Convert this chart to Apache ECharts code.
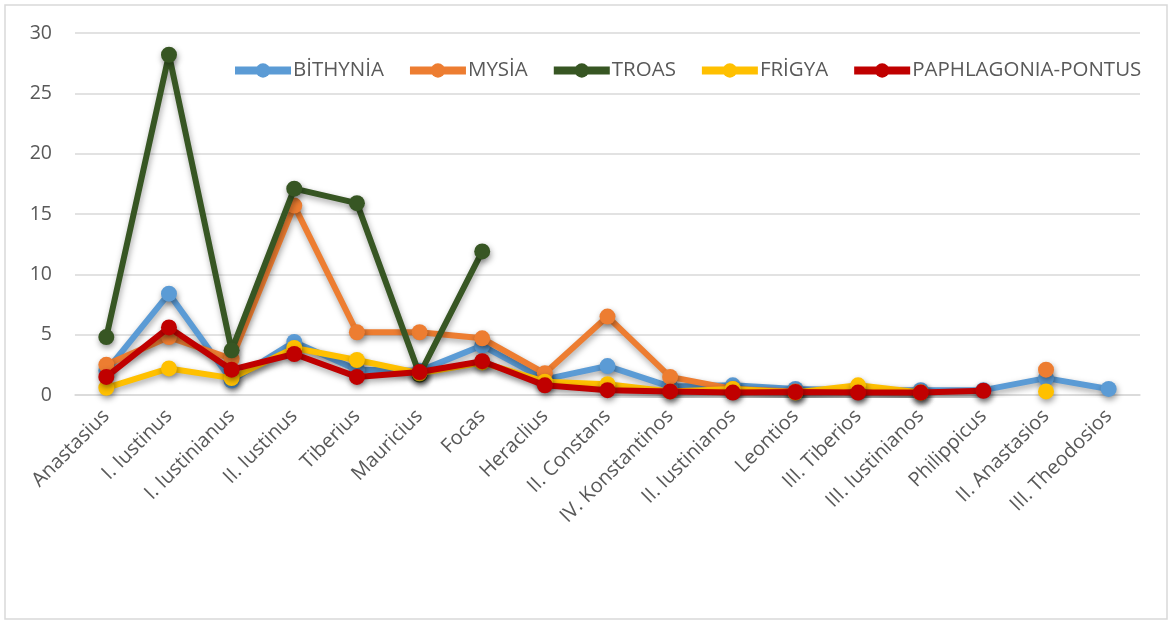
<!DOCTYPE html>
<html>
<head>
<meta charset="utf-8">
<script src="https://cdn.jsdelivr.net/npm/echarts@6/dist/echarts.min.js"></script>
<style>html,body{margin:0;padding:0;background:#fff;}#c{width:1170px;height:622px;}</style>
</head>
<body>
<div id="c"></div>
<script>
const categories = ["Anastasius","I. Iustinus","I. Iustinianus","II. Iustinus","Tiberius","Mauricius","Focas","Heraclius","II. Constans","IV. Konstantinos","II. Iustinianos","Leontios","III. Tiberios","III. Iustinianos","Philippicus","II. Anastasios","III. Theodosios"];
const seriesNames = ["BİTHYNİA","MYSİA","TROAS","FRİGYA","PAPHLAGONIA-PONTUS"];
const bithynia = [2.0, 8.4, 1.2, 4.4, 2.1, 2.0, 4.1, 1.3, 2.4, 0.7, 0.8, 0.5, 0.4, 0.4, 0.4, 1.4, 0.5];
const mysia = [2.5, 4.8, 3.0, 15.7, 5.2, 5.2, 4.7, 1.8, 6.5, 1.5, 0.5, 0.3, 0.3, 0.2, null, 2.1, null];
const troas = [4.8, 28.2, 3.7, 17.1, 15.9, 1.7, 11.9, null, null, null, null, null, null, null, null, null, null];
const frigya = [0.6, 2.2, 1.4, 3.9, 2.9, 1.8, 2.7, 1.1, 0.9, 0.3, 0.5, 0.2, 0.8, 0.2, null, 0.3, null];
const paphlagonia = [1.5, 5.6, 2.1, 3.4, 1.5, 1.9, 2.8, 0.8, 0.4, 0.3, 0.2, 0.25, 0.2, 0.2, 0.35, null, null];
const yTicks = {min: 0, max: 30, interval: 5};
const colors = ["#5B9BD5","#ED7D31","#375623","#FFC000","#C00000"];
const dataSets = [bithynia, mysia, troas, frigya, paphlagonia];

const chart = echarts.init(document.getElementById('c'), null, {renderer: 'canvas'});
const series = seriesNames.map((n, i) => ({
  name: n,
  type: 'line',
  data: dataSets[i],
  symbol: 'circle',
  symbolSize: 16,
  connectNulls: false,
  color: colors[i],
  lineStyle: {width: 6, color: colors[i], shadowColor: 'rgba(0,0,0,0.35)', shadowBlur: 6, shadowOffsetX: 1, shadowOffsetY: 3},
  itemStyle: {color: colors[i], shadowColor: 'rgba(0,0,0,0.4)', shadowBlur: 6, shadowOffsetX: 1, shadowOffsetY: 3},
  z: 2 + i,
  animation: false
}));
chart.setOption({
  animation: false,
  textStyle: {fontFamily: 'Open Sans'},
  graphic: [{type: 'rect', shape: {x: 5, y: 5, width: 1162, height: 614}, style: {fill: 'none', stroke: '#d9d9d9', lineWidth: 1.5}, silent: true}],
  legend: {
    left: 231, top: 60, padding: 0,
    itemWidth: 56, itemHeight: 18, itemGap: 22,
    lineStyle: {width: 8, shadowBlur: 0, shadowOffsetX: 0, shadowOffsetY: 0},
    itemStyle: {shadowBlur: 0, shadowOffsetX: 0, shadowOffsetY: 0},
    textStyle: {color: '#595959', fontSize: 20.5, fontFamily: 'Open Sans', padding: [0,0,0,-3]},
    data: seriesNames
  },
  grid: {left: 75, right: 30, top: 33, bottom: 227, containLabel: false},
  xAxis: {
    type: 'category', data: categories, boundaryGap: true,
    axisTick: {show: false},
    axisLine: {lineStyle: {color: '#d9d9d9', width: 1.5}},
    axisLabel: {rotate: 45, color: '#595959', fontSize: 20, fontFamily: 'Open Sans', margin: 18, interval: 0}
  },
  yAxis: {
    type: 'value', min: yTicks.min, max: yTicks.max, interval: yTicks.interval,
    axisLine: {show: false}, axisTick: {show: false},
    splitLine: {lineStyle: {color: '#d9d9d9', width: 1.5}},
    axisLabel: {color: '#595959', fontSize: 19.5, fontFamily: 'Open Sans', margin: 23}
  },
  series: series
});
</script>
</body>
</html>
